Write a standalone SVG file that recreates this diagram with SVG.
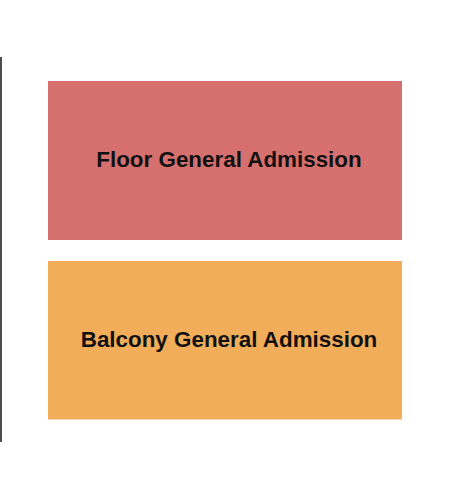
<svg xmlns="http://www.w3.org/2000/svg" width="450" height="500" viewBox="0 0 450 500">
<style>
.lbl{font-family:"Liberation Sans",Arial,sans-serif;font-weight:bold;font-size:22.4px;fill:#111;text-anchor:middle}
</style>
<rect width="450" height="500" fill="#fff"/>
<line x1="1" y1="57" x2="1" y2="442" stroke="#111" stroke-width="1.5"/>
<g id="floor">
<rect x="48" y="81" width="354" height="159" fill="#D6706E"/>
<text class="lbl" x="229" y="167">Floor General Admission</text>
</g>
<g id="balcony">
<rect x="48" y="261" width="354" height="158.5" fill="#F2AD5B"/>
<text class="lbl" x="229" y="347">Balcony General Admission</text>
</g>
<g id="connectors"/>
</svg>
